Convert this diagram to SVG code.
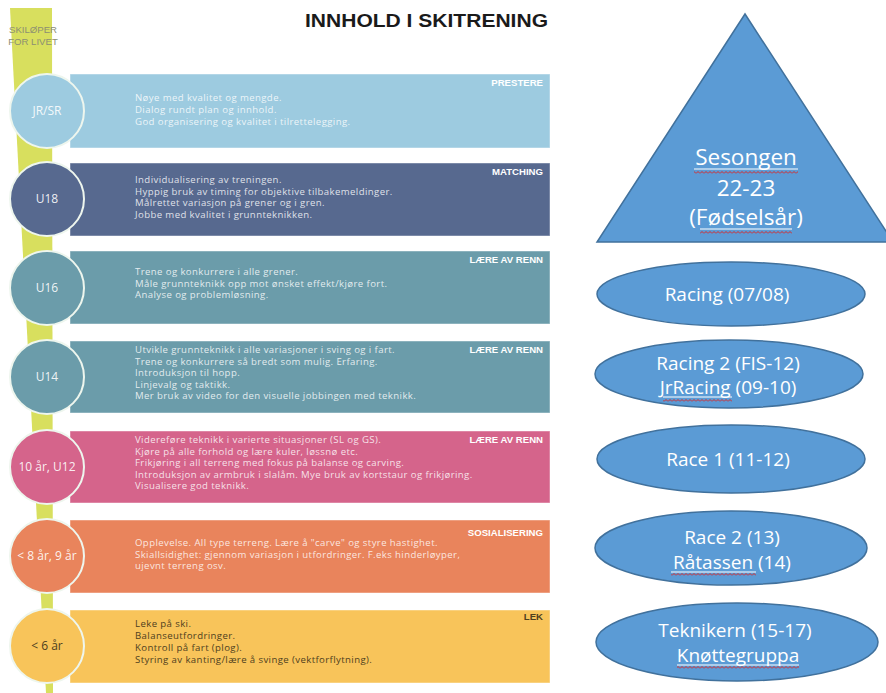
<svg xmlns="http://www.w3.org/2000/svg" width="886" height="693" viewBox="0 0 886 693">
<defs>
<pattern id="sq" width="4" height="3" patternUnits="userSpaceOnUse"><path d="M0 2.5 L2 0.5 L4 2.5" stroke="#d82828" fill="none" stroke-width="1"/></pattern>
<style>
.band{stroke:#ffffff;stroke-opacity:0.45;stroke-width:1}
.circ{stroke:#eef6ee;stroke-width:2}
.bt{font-family:"Open Sans","Liberation Sans",sans-serif;font-size:9.6px;letter-spacing:0.4px;fill:#ffffff;fill-opacity:0.82}
.lbl{font-family:"Liberation Sans",Arial,sans-serif;font-size:9.6px;font-weight:bold;fill:#ffffff;text-anchor:end}
.ct{font-family:"Open Sans","Liberation Sans",sans-serif;font-size:12px;fill:#ffffff;fill-opacity:0.9;text-anchor:middle}
.shape{fill:#5b9bd5;stroke:#41719c;stroke-width:1.5}
.wt{font-family:"Open Sans","Liberation Sans",sans-serif;font-size:19px;fill:#ffffff;text-anchor:middle}
.tt{font-family:"Open Sans","Liberation Sans",sans-serif;font-size:22.5px;fill:#ffffff;text-anchor:middle}
.ul{stroke:#ffffff;stroke-width:1}
</style>
</defs>
<rect width="886" height="693" fill="#ffffff"/>

<g id="strip">
<polygon points="10,8 52,8 53,693 46,693" fill="#d8df5e"/>
<text x="33" y="33" font-family="Liberation Sans,Arial,sans-serif" font-size="9.6" fill="#8d8f72" text-anchor="middle">SKILØPER</text>
<text x="33" y="45" font-family="Liberation Sans,Arial,sans-serif" font-size="9.6" fill="#8d8f72" text-anchor="middle">FOR LIVET</text>
</g>

<g id="title">
<text x="305" y="27" font-family="Liberation Sans,Arial,sans-serif" font-size="18" font-weight="bold" fill="#1a1a1a" textLength="243" lengthAdjust="spacingAndGlyphs">INNHOLD I SKITRENING</text>
</g>

<g id="row-prestere">
<rect class="band" x="70" y="74" width="480" height="74" fill="#9dcbe0"/>
<circle class="circ" cx="47" cy="111" r="37" fill="#9dcbe0"/>
<text class="ct" x="47" y="115">JR/SR</text>
<text class="lbl" x="543" y="86">PRESTERE</text>
<text class="bt" x="135" y="101">Nøye med kvalitet og mengde.</text>
<text class="bt" x="135" y="113">Dialog rundt plan og innhold.</text>
<text class="bt" x="135" y="125">God organisering og kvalitet i tilrettelegging.</text>
</g>

<g id="row-matching">
<rect class="band" x="70" y="163" width="480" height="73" fill="#57698f"/>
<circle class="circ" cx="47" cy="199" r="37" fill="#57698f"/>
<text class="ct" x="47" y="203">U18</text>
<text class="lbl" x="543" y="175">MATCHING</text>
<text class="bt" x="135" y="183">Individualisering av treningen.</text>
<text class="bt" x="135" y="194.5">Hyppig bruk av timing for objektive tilbakemeldinger.</text>
<text class="bt" x="135" y="206">Målrettet variasjon på grener og i gren.</text>
<text class="bt" x="135" y="217.5">Jobbe med kvalitet i grunnteknikken.</text>
</g>

<g id="row-u16">
<rect class="band" x="70" y="251" width="480" height="73" fill="#6b9caa"/>
<circle class="circ" cx="47" cy="288" r="37" fill="#6b9caa"/>
<text class="ct" x="47" y="292">U16</text>
<text class="lbl" x="543" y="263">LÆRE AV RENN</text>
<text class="bt" x="135" y="275">Trene og konkurrere i alle grener.</text>
<text class="bt" x="135" y="286.5">Måle grunnteknikk opp mot ønsket effekt/kjøre fort.</text>
<text class="bt" x="135" y="298">Analyse og problemløsning.</text>
</g>

<g id="row-u14">
<rect class="band" x="70" y="341" width="480" height="72" fill="#6b9caa"/>
<circle class="circ" cx="47" cy="377" r="37" fill="#6b9caa"/>
<text class="ct" x="47" y="381">U14</text>
<text class="lbl" x="543" y="353">LÆRE AV RENN</text>
<text class="bt" x="135" y="353">Utvikle grunnteknikk i alle variasjoner i sving og i fart.</text>
<text class="bt" x="135" y="364.5">Trene og konkurrere så bredt som mulig. Erfaring.</text>
<text class="bt" x="135" y="376">Introduksjon til hopp.</text>
<text class="bt" x="135" y="387.5">Linjevalg og taktikk.</text>
<text class="bt" x="135" y="399">Mer bruk av video for den visuelle jobbingen med teknikk.</text>
</g>

<g id="row-u12">
<rect class="band" x="70" y="431" width="480" height="72" fill="#d5648b"/>
<circle class="circ" cx="47" cy="467" r="37" fill="#d5648b"/>
<text class="ct" x="47" y="471">10 år, U12</text>
<text class="lbl" x="543" y="443">LÆRE AV RENN</text>
<text class="bt" x="135" y="443">Videreføre teknikk i varierte situasjoner (SL og GS).</text>
<text class="bt" x="135" y="454.5">Kjøre på alle forhold og lære kuler, løssnø etc.</text>
<text class="bt" x="135" y="466">Frikjøring i all terreng med fokus på balanse og carving.</text>
<text class="bt" x="135" y="477.5">Introduksjon av armbruk i slalåm. Mye bruk av kortstaur og frikjøring.</text>
<text class="bt" x="135" y="489">Visualisere god teknikk.</text>
</g>

<g id="row-sosialisering">
<rect class="band" x="70" y="520" width="480" height="73" fill="#e9845c"/>
<circle class="circ" cx="47" cy="556" r="37" fill="#e9845c"/>
<text class="ct" x="47" y="560">&lt; 8 år, 9 år</text>
<text class="lbl" x="543" y="536">SOSIALISERING</text>
<text class="bt" x="135" y="546">Opplevelse. All type terreng. Lære å "carve" og styre hastighet.</text>
<text class="bt" x="135" y="557.5">Skiallsidighet: gjennom variasjon i utfordringer. F.eks hinderløyper,</text>
<text class="bt" x="135" y="569">ujevnt terreng osv.</text>
</g>

<g id="row-lek">
<rect class="band" x="70" y="610" width="480" height="73" fill="#f8c45a"/>
<circle class="circ" cx="47" cy="646" r="37" fill="#f8c45a"/>
<text class="ct" x="47" y="650" style="fill:#4e4020;fill-opacity:1">&lt; 6 år</text>
<text class="lbl" x="543" y="620" style="fill:#4e4020">LEK</text>
<text class="bt" x="135" y="627" style="fill:#4e4020;fill-opacity:1">Leke på ski.</text>
<text class="bt" x="135" y="639" style="fill:#4e4020;fill-opacity:1">Balanseutfordringer.</text>
<text class="bt" x="135" y="651" style="fill:#4e4020;fill-opacity:1">Kontroll på fart (plog).</text>
<text class="bt" x="135" y="663" style="fill:#4e4020;fill-opacity:1">Styring av kanting/lære å svinge (vektforflytning).</text>
</g>

<g id="season">
<polygon class="shape" points="745,14 597,242 893,242"/>
<text class="tt" x="746" y="165">Sesongen</text>
<text class="tt" x="746" y="196">22-23</text>
<text class="tt" x="746" y="225">(Fødselsår)</text>
<line class="ul" x1="694" y1="169" x2="798" y2="169"/>
<rect x="694" y="171" width="104" height="3" fill="url(#sq)"/>
<line class="ul" x1="700" y1="229" x2="792" y2="229"/>
<rect x="700" y="231" width="92" height="3" fill="url(#sq)"/>
</g>

<g id="racing">
<ellipse class="shape" cx="731" cy="294" rx="134" ry="32"/>
<text class="wt" x="727" y="301">Racing (07/08)</text>
</g>

<g id="racing2">
<ellipse class="shape" cx="729" cy="374" rx="134" ry="34"/>
<text class="wt" x="728" y="370">Racing 2 (FIS-12)</text>
<text class="wt" x="728" y="394">JrRacing (09-10)</text>
<line class="ul" x1="663" y1="397" x2="732" y2="397"/>
<rect x="663" y="399" width="69" height="3" fill="url(#sq)"/>
</g>

<g id="race1">
<ellipse class="shape" cx="731" cy="459" rx="134" ry="34"/>
<text class="wt" x="728" y="466">Race 1 (11-12)</text>
</g>

<g id="race2">
<ellipse class="shape" cx="731" cy="548" rx="136" ry="37"/>
<text class="wt" x="732" y="544">Race 2 (13)</text>
<text class="wt" x="732" y="569">Råtassen (14)</text>
<line class="ul" x1="671" y1="572" x2="756" y2="572"/>
<rect x="671" y="573" width="85" height="3" fill="url(#sq)"/>
</g>

<g id="teknikern">
<ellipse class="shape" cx="737" cy="642" rx="141" ry="39"/>
<text class="wt" x="735" y="637">Teknikern (15-17)</text>
<text class="wt" x="738" y="662">Knøttegruppa</text>
<line class="ul" x1="677" y1="665" x2="799" y2="665"/>
<rect x="677" y="666" width="122" height="3" fill="url(#sq)"/>
</g>

<g id="connectors"></g>
</svg>
